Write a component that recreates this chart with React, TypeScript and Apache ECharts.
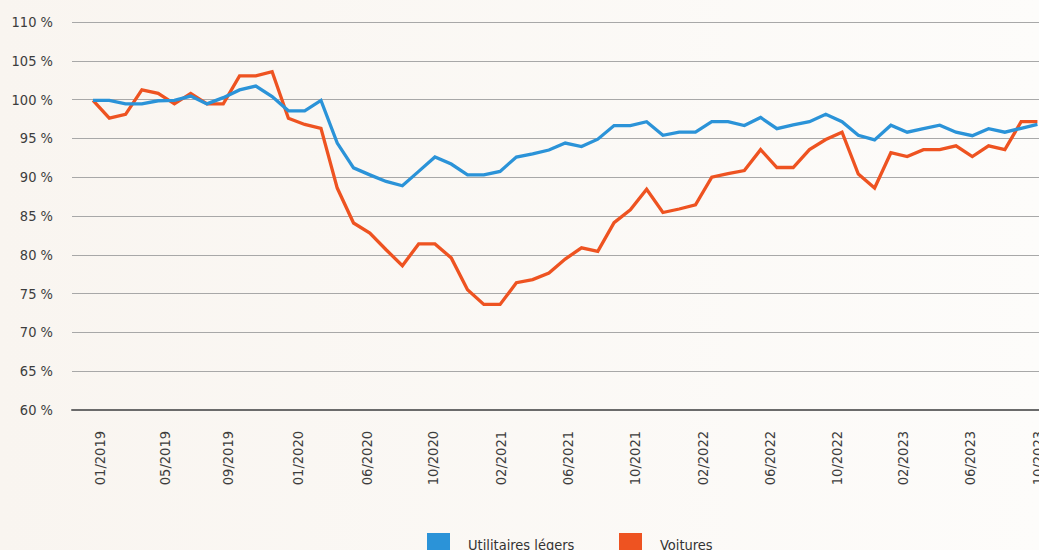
import React, { useEffect, useRef } from "react";
import * as echarts from "echarts";

// Monthly points, 01/2019 … 11/2023
const months = [
  "01/2019", "02/2019", "03/2019", "04/2019", "05/2019", "06/2019", "07/2019", "08/2019", "09/2019", "10/2019", "11/2019", "12/2019",
  "01/2020", "02/2020", "03/2020", "04/2020", "05/2020", "06/2020", "07/2020", "08/2020", "09/2020", "10/2020", "11/2020", "12/2020",
  "01/2021", "02/2021", "03/2021", "04/2021", "05/2021", "06/2021", "07/2021", "08/2021", "09/2021", "10/2021", "11/2021", "12/2021",
  "01/2022", "02/2022", "03/2022", "04/2022", "05/2022", "06/2022", "07/2022", "08/2022", "09/2022", "10/2022", "11/2022", "12/2022",
  "01/2023", "02/2023", "03/2023", "04/2023", "05/2023", "06/2023", "07/2023", "08/2023", "09/2023", "10/2023", "11/2023",
];

const utilitaires = [
  99.9, 99.9, 99.45, 99.45, 99.85, 99.9, 100.45, 99.45, 100.25, 101.25, 101.75, 100.4,
  98.55, 98.55, 99.9, 94.4, 91.2, 90.3, 89.45, 88.9, 90.75, 92.6, 91.7, 90.3,
  90.3, 90.75, 92.6, 93.0, 93.5, 94.4, 93.95, 94.9, 96.65, 96.65, 97.15, 95.4,
  95.8, 95.8, 97.15, 97.15, 96.65, 97.7, 96.25, 96.75, 97.15, 98.1, 97.15, 95.4,
  94.8, 96.7, 95.8, 96.25, 96.7, 95.8, 95.35, 96.25, 95.8, 96.3, 96.8,
];

const voitures = [
  99.9, 97.6, 98.1, 101.25, 100.8, 99.45, 100.8, 99.45, 99.45, 103.05, 103.05, 103.6,
  97.6, 96.8, 96.3, 88.6, 84.1, 82.8, 80.65, 78.6, 81.4, 81.4, 79.6, 75.5,
  73.6, 73.6, 76.4, 76.8, 77.65, 79.45, 80.9, 80.45, 84.15, 85.8, 88.45, 85.45,
  85.9, 86.45, 90.0, 90.45, 90.85, 93.55, 91.25, 91.25, 93.55, 94.85, 95.8, 90.4,
  88.6, 93.15, 92.65, 93.55, 93.55, 94.05, 92.65, 94.05, 93.55, 97.15, 97.15,
];

// Date-axis tick labels and where they fall (in month units from 01/2019)
const tickLabels = [
  "01/2019", "05/2019", "09/2019", "01/2020", "06/2020", "10/2020", "02/2021", "06/2021",
  "10/2021", "02/2022", "06/2022", "10/2022", "02/2023", "06/2023", "10/2023",
];
const tickPositions = [0.4, 4.4, 8.3, 12.6, 16.8, 20.9, 25.05, 29.2, 33.3, 37.45, 41.6, 45.7, 49.75, 53.85, 58.05];

const yTicks = { min: 60, max: 110, step: 5 };

const FONT = "'Liberation Sans Narrow', 'DejaVu Sans Condensed', 'Roboto Condensed', sans-serif";
const BLUE = "#2b93d8";
const ORANGE = "#ee5321";

export default function App() {
  const ref = useRef<HTMLDivElement>(null);

  useEffect(() => {
    if (!ref.current) return;
    const chart = echarts.init(ref.current, null, { renderer: "svg" });
    const legendBase = {
      top: 528,
      icon: "rect",
      itemWidth: 23,
      itemHeight: 23,
      textStyle: { fontSize: 14.5, color: "#333", fontFamily: FONT, padding: [0, 0, 0, 13] },
    };
    chart.setOption({
      animation: false,
      backgroundColor: new echarts.graphic.LinearGradient(0, 0, 1, 0, [
        { offset: 0, color: "#f9f5f0" },
        { offset: 1, color: "#fdfcfa" },
      ]),
      textStyle: { fontFamily: FONT },
      grid: { left: 72, right: -31, top: 22, bottom: 140, containLabel: false, outerBoundsMode: "none" },
      legend: [
        { ...legendBase, left: 422, data: ["Utilitaires légers"] },
        { ...legendBase, left: 614, data: ["Voitures"] },
      ],
      xAxis: {
        type: "value",
        min: -1.29,
        max: 60,
        axisLine: { show: true, onZero: false, lineStyle: { color: "#6b6b6b", width: 2 } },
        axisTick: { show: false },
        splitLine: { show: false },
        axisLabel: {
          customValues: tickPositions,
          formatter: (v: number) => {
            const k = tickPositions.indexOf(v);
            return k >= 0 ? tickLabels[k] : "";
          },
          rotate: 90,
          margin: 21,
          fontSize: 14.5,
          color: "#3d3d3d",
          fontFamily: FONT,
        },
      },
      yAxis: {
        type: "value",
        min: yTicks.min,
        max: yTicks.max,
        interval: yTicks.step,
        axisLine: { show: false },
        axisTick: { show: false },
        axisLabel: {
          formatter: (v: number) => `${v} %`,
          margin: 19,
          fontSize: 14.5,
          color: "#3d3d3d",
          fontFamily: FONT,
        },
        splitLine: { lineStyle: { color: "#a8a8a8", width: 1 } },
      },
      series: [
        {
          name: "Utilitaires légers",
          type: "line",
          data: months.map((_, i) => [i, utilitaires[i]]),
          showSymbol: false,
          symbol: "none",
          color: BLUE,
          lineStyle: { width: 3.3, color: BLUE, join: "miter" },
          z: 3,
        },
        {
          name: "Voitures",
          type: "line",
          data: months.map((_, i) => [i, voitures[i]]),
          showSymbol: false,
          symbol: "none",
          color: ORANGE,
          lineStyle: { width: 3.3, color: ORANGE, join: "miter" },
          z: 2,
        },
      ],
    });
    return () => chart.dispose();
  }, []);

  return (
    <div
      ref={ref}
      style={{ position: "fixed", left: 0, top: 0, width: 1039, height: 550 }}
    />
  );
}
